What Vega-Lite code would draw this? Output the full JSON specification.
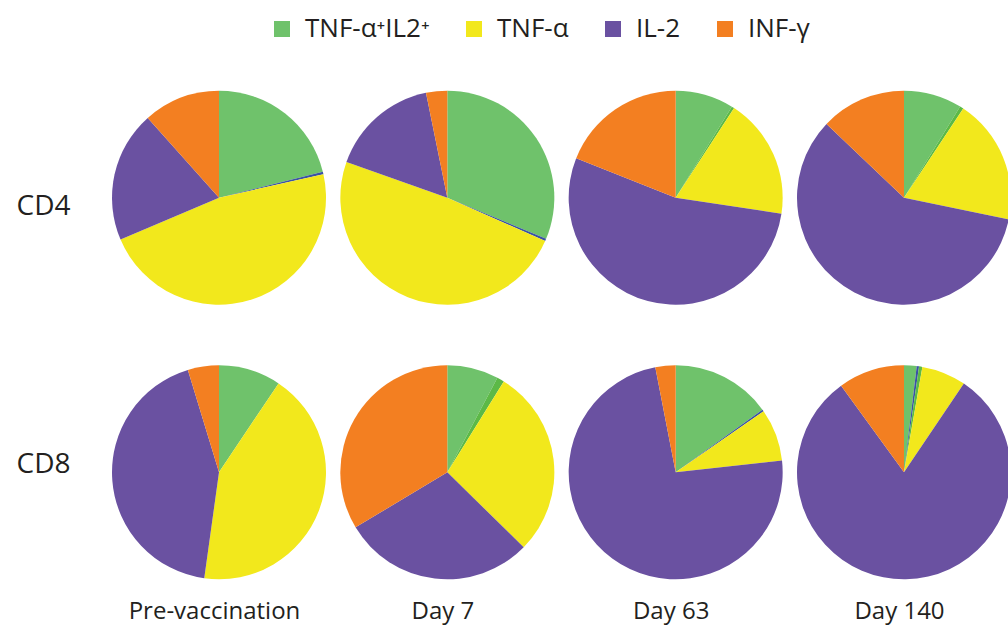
{
  "$schema": "https://vega.github.io/schema/vega-lite/v6.json",
  "width": 893,
  "height": 510,
  "autosize": {"type": "none"},
  "padding": {"left": 115, "top": 80, "right": 0, "bottom": 40},
  "background": "white",
  "data": {
    "values": [
      {"cell": "CD4", "time": "Pre-vaccination", "subset": "TNF-α⁺IL2⁺", "pct": 21.1},
      {"cell": "CD4", "time": "Pre-vaccination", "subset": "Other (a)", "pct": 0.4},
      {"cell": "CD4", "time": "Pre-vaccination", "subset": "TNF-α", "pct": 47.1},
      {"cell": "CD4", "time": "Pre-vaccination", "subset": "IL-2", "pct": 19.8},
      {"cell": "CD4", "time": "Pre-vaccination", "subset": "INF-γ", "pct": 11.6},
      {"cell": "CD4", "time": "Day 7", "subset": "TNF-α⁺IL2⁺", "pct": 31.3},
      {"cell": "CD4", "time": "Day 7", "subset": "Other (a)", "pct": 0.35},
      {"cell": "CD4", "time": "Day 7", "subset": "TNF-α", "pct": 48.8},
      {"cell": "CD4", "time": "Day 7", "subset": "IL-2", "pct": 16.4},
      {"cell": "CD4", "time": "Day 7", "subset": "INF-γ", "pct": 3.2},
      {"cell": "CD4", "time": "Day 63", "subset": "TNF-α⁺IL2⁺", "pct": 8.8},
      {"cell": "CD4", "time": "Day 63", "subset": "Other (b)", "pct": 0.4},
      {"cell": "CD4", "time": "Day 63", "subset": "TNF-α", "pct": 18.2},
      {"cell": "CD4", "time": "Day 63", "subset": "IL-2", "pct": 53.6},
      {"cell": "CD4", "time": "Day 63", "subset": "INF-γ", "pct": 19.0},
      {"cell": "CD4", "time": "Day 140", "subset": "TNF-α⁺IL2⁺", "pct": 8.8},
      {"cell": "CD4", "time": "Day 140", "subset": "Other (b)", "pct": 0.55},
      {"cell": "CD4", "time": "Day 140", "subset": "TNF-α", "pct": 18.9},
      {"cell": "CD4", "time": "Day 140", "subset": "IL-2", "pct": 58.9},
      {"cell": "CD4", "time": "Day 140", "subset": "INF-γ", "pct": 12.9},
      {"cell": "CD8", "time": "Pre-vaccination", "subset": "TNF-α⁺IL2⁺", "pct": 9.4},
      {"cell": "CD8", "time": "Pre-vaccination", "subset": "TNF-α", "pct": 42.8},
      {"cell": "CD8", "time": "Pre-vaccination", "subset": "IL-2", "pct": 43.1},
      {"cell": "CD8", "time": "Pre-vaccination", "subset": "INF-γ", "pct": 4.7},
      {"cell": "CD8", "time": "Day 7", "subset": "TNF-α⁺IL2⁺", "pct": 7.75},
      {"cell": "CD8", "time": "Day 7", "subset": "Other (b)", "pct": 1.1},
      {"cell": "CD8", "time": "Day 7", "subset": "TNF-α", "pct": 28.5},
      {"cell": "CD8", "time": "Day 7", "subset": "IL-2", "pct": 29.05},
      {"cell": "CD8", "time": "Day 7", "subset": "INF-γ", "pct": 33.6},
      {"cell": "CD8", "time": "Day 63", "subset": "TNF-α⁺IL2⁺", "pct": 15.05},
      {"cell": "CD8", "time": "Day 63", "subset": "Other (a)", "pct": 0.3},
      {"cell": "CD8", "time": "Day 63", "subset": "TNF-α", "pct": 7.9},
      {"cell": "CD8", "time": "Day 63", "subset": "IL-2", "pct": 73.7},
      {"cell": "CD8", "time": "Day 63", "subset": "INF-γ", "pct": 3.05},
      {"cell": "CD8", "time": "Day 140", "subset": "TNF-α⁺IL2⁺", "pct": 1.9},
      {"cell": "CD8", "time": "Day 140", "subset": "Other (a)", "pct": 0.35},
      {"cell": "CD8", "time": "Day 140", "subset": "Other (b)", "pct": 0.5},
      {"cell": "CD8", "time": "Day 140", "subset": "TNF-α", "pct": 6.7},
      {"cell": "CD8", "time": "Day 140", "subset": "IL-2", "pct": 80.55},
      {"cell": "CD8", "time": "Day 140", "subset": "INF-γ", "pct": 10.0}
    ]
  },
  "transform": [
    {"calculate": "indexof(['TNF-α⁺IL2⁺','Other (a)','Other (b)','TNF-α','IL-2','INF-γ'], datum.subset)", "as": "k"},
    {"stack": "pct", "groupby": ["cell", "time"], "sort": [{"field": "k", "order": "ascending"}], "offset": "normalize", "as": ["t0", "t1"]}
  ],
  "mark": {"type": "arc", "radius": 107},
  "encoding": {
    "x": {
      "field": "time", "type": "nominal",
      "sort": ["Pre-vaccination", "Day 7", "Day 63", "Day 140"],
      "scale": {"type": "point", "padding": 0.4555},
      "axis": {"title": null, "orient": "bottom", "domain": false, "ticks": false, "grid": false, "labelAngle": 0, "labelFont": "Open Sans", "labelFontSize": 24, "labelColor": "#231f20", "labelPadding": 9, "labelOffset": -5}
    },
    "y": {
      "field": "cell", "type": "nominal",
      "sort": ["CD4", "CD8"],
      "scale": {"type": "point", "padding": 0.4286},
      "axis": {"title": null, "domain": false, "ticks": false, "grid": false, "labelFont": "Open Sans", "labelFontSize": 28, "labelColor": "#231f20", "labelPadding": 45,
        "labelOffset": {"condition": {"test": "datum.value === 'CD4'", "value": 9}, "value": -8}}
    },
    "theta": {"field": "t0", "type": "quantitative", "stack": null, "scale": {"domain": [0, 1]}},
    "theta2": {"field": "t1"},
    "color": {
      "field": "subset", "type": "nominal",
      "scale": {
        "domain": ["TNF-α⁺IL2⁺", "Other (a)", "Other (b)", "TNF-α", "IL-2", "INF-γ"],
        "range": ["#6fc26b", "#3a53a4", "#5cb947", "#f2e81c", "#6a51a1", "#f37f21"]
      },
      "legend": {
        "orient": "none", "legendX": 154, "legendY": -64, "direction": "horizontal",
        "values": ["TNF-α⁺IL2⁺", "TNF-α", "IL-2", "INF-γ"],
        "title": null, "symbolType": "square", "symbolSize": 256, "symbolOpacity": 1, "symbolStrokeWidth": 0,
        "labelFont": "Open Sans", "labelFontSize": 26, "labelColor": "#231f20", "labelOffset": 10,
        "columnPadding": 31, "labelLimit": 400, "padding": 0
      }
    }
  },
  "config": {"view": {"stroke": null}}
}
